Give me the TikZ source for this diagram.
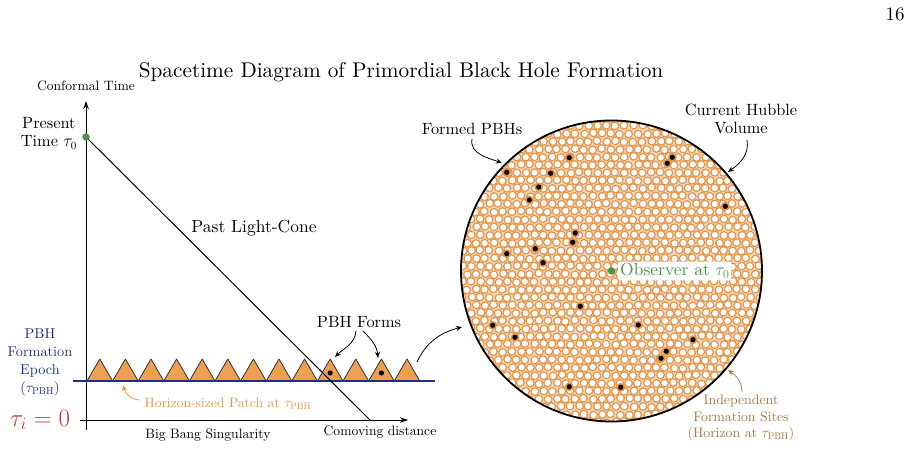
\documentclass[tikz,border=0pt]{standalone}
\usepackage{fontspec}
\setmainfont{lmroman10-regular}[Extension=.otf, BoldFont=lmroman10-bold, ItalicFont=lmroman10-italic, BoldItalicFont=lmroman10-bolditalic]
\usetikzlibrary{arrows.meta}
\definecolor{porange}{RGB}{238,160,82}
\definecolor{corange}{RGB}{228,150,74}
\definecolor{pblue}{RGB}{28,48,128}
\definecolor{pred}{RGB}{192,64,44}
\definecolor{pgreen}{RGB}{72,150,76}
\definecolor{ptext}{RGB}{224,150,70}
\definecolor{pbrown}{RGB}{170,118,70}
\newcommand\fsSmall{\fontsize{13.6}{17}\selectfont}
\newcommand\fsLab{\fontsize{14.3}{18}\selectfont}
\newcommand\fsMed{\fontsize{16.3}{18.5}\selectfont}
\newcommand\fsBig{\fontsize{17.5}{20}\selectfont}
\newcommand\fsTitle{\fontsize{21.3}{25}\selectfont}
\tikzset{
  txt/.style={inner sep=0pt, align=center},
  arr/.style={-{Stealth[length=6pt,width=5pt]}, line width=0.8pt},
  axis/.style={-{Stealth[length=8pt,width=5.5pt]}, line width=1pt},
  tri/.style={fill=porange, draw=black!80, line width=0.8pt, line join=round},
  bh/.style={circle, fill=black, inner sep=0pt, minimum size=5.2pt},
  bhhalo/.style={circle, fill=corange, inner sep=0pt, minimum size=9pt},
  ring/.style={draw=corange, line width=1.25pt},
}
\begin{document}
\begin{tikzpicture}[x=1pt,y=-1pt]
\useasboundingbox (0,0) rectangle (911,449);

% page number and title
\node[txt, font=\fontsize{19}{21}\selectfont] (pg) at (895,14) {16};
\node[txt, font=\fsTitle] (title) at (401,72) {Spacetime Diagram of Primordial Black Hole Formation};

% axes
\coordinate (yb) at (86,430);
\coordinate (yt) at (86,101);
\coordinate (xl) at (80,420);
\coordinate (xr) at (408,420);
\draw[axis] (yb) -- (yt);
\draw[axis] (xl) -- (xr);
\node[txt, font=\fsSmall] (ctime) at (86,86) {Conformal Time};
\node[txt, font=\fsSmall] (bbs) at (208,435) {Big Bang Singularity};
\node[txt, font=\fsSmall] (cdist) at (380,432) {Comoving distance};

% triangles
\foreach \i in {0,...,12}{
  \filldraw[tri] ({87+\i*25.6},381) -- ({87+\i*25.6+12.8},359) -- ({87+\i*25.6+25.6},381) -- cycle;
}
\node[bh] (d1) at (330.2,373) {};
\node[bh] (d2) at (381.4,373) {};
\coordinate (a1) at (335,357);
\coordinate (a2) at (378,358);

% formation epoch line
\coordinate (bl) at (73,381);
\coordinate (br) at (435,381);
\draw[pblue, line width=2.8pt] (bl) -- (br);

% light cone
\coordinate (lcend) at (370,420);
\coordinate (p0c) at (86,137);
\draw[line width=1pt] (p0c) -- (lcend);
\node[circle, fill=pgreen, inner sep=0pt, minimum size=7.5pt] (p0) at (p0c) {};

\node[txt, font=\fsBig] (plc) at (254,228) {Past Light-Cone};
\node[txt, font=\fsMed, anchor=east] (present) at (77,133) {Present\\Time $\tau_0$};
\node[txt, font=\fsLab, text=pblue] (epoch) at (40,362) {PBH\\Formation\\Epoch\\($\tau_{\mathrm{PBH}}$)};
\node[txt, font=\fontsize{25}{28}\selectfont, text=pred] (ti) at (40,420) {$\tau_i = 0$};

% PBH forms
\node[txt, font=\fsMed] (forms) at (359,322) {PBH Forms};
\coordinate (f1) at (356,331);
\coordinate (f2) at (363,331);
\draw[arr] (f1) to[out=-95,in=45] (a1);
\draw[arr] (f2) to[out=-45,in=95] (a2);

% horizon-sized patch
\node[txt, font=\fsSmall, text=ptext] (hsp) at (228,404) {Horizon-sized Patch at $\tau_{\mathrm{PBH}}$};
\coordinate (h0) at (140,400);
\coordinate (h1) at (123,385);
\draw[arr, draw=ptext, line width=0.7pt] (h0) to[out=180,in=-75] (h1);

% Hubble volume
\coordinate (C) at (611.5,271);
\begin{scope}
  \clip (C) circle (150.5);
  \fill[corange!35] (C) circle (150.5);
  \pgfmathsetseed{7}
  \foreach \r in {0,...,39}{
    \foreach \c in {0,...,35}{
      \pgfmathsetmacro\px{458+\c*9+mod(\r,2)*4.5+rand*0.8}
      \pgfmathsetmacro\py{118+\r*7.8+rand*0.8}
      \filldraw[ring, fill=white] (\px,\py) circle (3.85);
    }
  }
\end{scope}
\draw[line width=1.8pt] (C) circle (150.5);

\foreach \x/\y in {506.7/172.3, 550.7/173.3, 569.3/157.7, 538.7/187, 529.3/200,
  575.3/233, 572.7/242.3, 506.7/253.7, 535.3/248.7, 543/262.7,
  672.3/157.3, 667.3/163.3, 725.3/206.3,
  580.3/306.3, 492.7/325.3, 515/337.3, 569.3/386.7,
  638.3/325, 693/339.7, 666.3/351.3, 661/358.3, 620.7/387.3}{
  \node[bhhalo] at (\x,\y) {};
  \node[bh] at (\x,\y) {};
}

\node[circle, fill=pgreen, inner sep=0pt, minimum size=7.5pt] (obs) at (C) {};
\node[anchor=west, fill=white, rounded corners=2pt, inner sep=2pt, text=pgreen, font=\fsBig] (obsl) at (618,271) {Observer at $\tau_0$};

% connector left -> circle
\coordinate (c0) at (417,362);
\coordinate (c1) at (462,327);
\draw[arr] (c0) to[out=65,in=195] (c1);

% circle labels
\node[txt, font=\fsMed] (fp) at (472,129) {Formed PBHs};
\coordinate (fp0) at (472,139);
\coordinate (fp1) at (502,163);
\draw[arr] (fp0) to[out=-100,in=160] (fp1);

\node[txt, font=\fsMed] (chv) at (741,119) {Current Hubble\\Volume};
\coordinate (ch0) at (747,140);
\coordinate (ch1) at (728,172);
\draw[arr] (ch0) to[out=-80,in=35] (ch1);

\node[txt, font=\fontsize{13.8}{16.5}\selectfont, text=pbrown] (ifs) at (741,418) {Independent\\Formation Sites\\(Horizon at $\tau_{\mathrm{PBH}}$)};
\coordinate (i0) at (742,392);
\coordinate (i1) at (728,370);
\draw[arr, draw=pbrown, line width=0.7pt] (i0) to[out=90,in=-35] (i1);
\end{tikzpicture}
\end{document}
